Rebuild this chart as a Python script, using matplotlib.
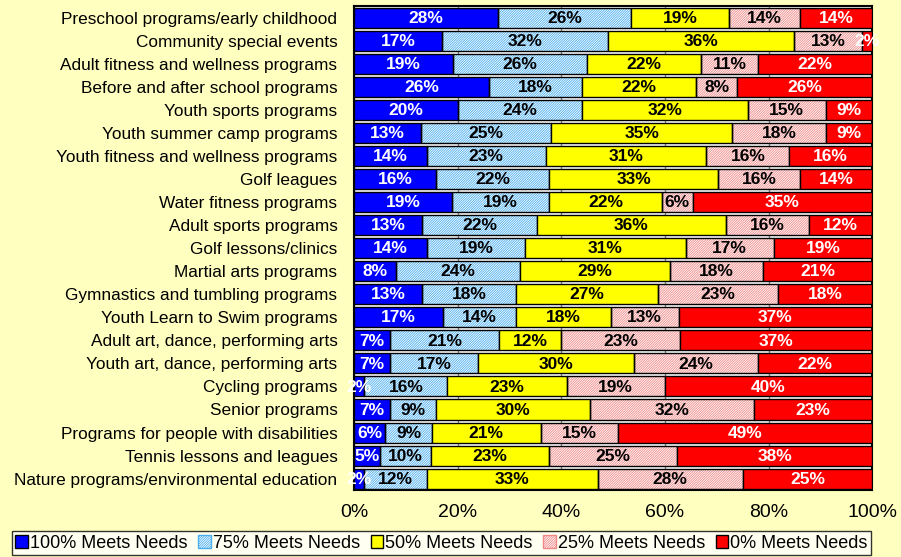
import matplotlib.pyplot as plt
import numpy as np
from matplotlib.patches import Patch

plt.rcParams['font.family'] = ['Liberation Sans', 'DejaVu Sans']
plt.rcParams['hatch.linewidth'] = 0.6

categories = [
    'Preschool programs/early childhood',
    'Community special events',
    'Adult fitness and wellness programs',
    'Before and after school programs',
    'Youth sports programs',
    'Youth summer camp programs',
    'Youth fitness and wellness programs',
    'Golf leagues',
    'Water fitness programs',
    'Adult sports programs',
    'Golf lessons/clinics',
    'Martial arts programs',
    'Gymnastics and tumbling programs',
    'Youth Learn to Swim programs',
    'Adult art, dance, performing arts',
    'Youth art, dance, performing arts',
    'Cycling programs',
    'Senior programs',
    'Programs for people with disabilities',
    'Tennis lessons and leagues',
    'Nature programs/environmental education',
]

meets_100 = [28, 17, 19, 26, 20, 13, 14, 16, 19, 13, 14, 8, 13, 17, 7, 7, 2, 7, 6, 5, 2]
meets_75 = [26, 32, 26, 18, 24, 25, 23, 22, 19, 22, 19, 24, 18, 14, 21, 17, 16, 9, 9, 10, 12]
meets_50 = [19, 36, 22, 22, 32, 35, 31, 33, 22, 36, 31, 29, 27, 18, 12, 30, 23, 30, 21, 23, 33]
meets_25 = [14, 13, 11, 8, 15, 18, 16, 16, 6, 16, 17, 18, 23, 13, 23, 24, 19, 32, 15, 25, 28]
meets_0 = [14, 2, 22, 26, 9, 9, 16, 14, 35, 12, 19, 21, 18, 37, 37, 22, 40, 23, 49, 38, 25]

series_names = ['100% Meets Needs', '75% Meets Needs', '50% Meets Needs',
                '25% Meets Needs', '0% Meets Needs']

series = np.array([meets_100, meets_75, meets_50, meets_25, meets_0], dtype=float)
totals = series.sum(axis=0)
shares = series / totals * 100  # 100% stacked

# (facecolor, hatch colour, hatch, text colour)
styles = [
    ('#0000FF', None, None, 'white'),
    ('white', '#4AAEF0', '/' * 14, 'black'),
    ('#FFFF00', None, None, 'black'),
    ('white', '#F08888', '/' * 14, 'black'),
    ('#FF0000', None, None, 'white'),
]

bg = '#FFFFC0'
fig = plt.figure(figsize=(9.01, 5.57), dpi=100, facecolor=bg)
ax = fig.add_axes([0.393, 0.120, 0.575, 0.869])
ax.set_facecolor('white')

y = np.arange(len(categories))
left = np.zeros(len(categories))
for i, name in enumerate(series_names):
    fc, hc, hatch, tc = styles[i]
    if hatch:
        ax.barh(y, shares[i], left=left, height=0.87, color='white',
                edgecolor=hc, hatch=hatch, linewidth=0, zorder=2)
        ax.barh(y, shares[i], left=left, height=0.87, fill=False,
                edgecolor='black', linewidth=1.0, zorder=3)
    else:
        ax.barh(y, shares[i], left=left, height=0.87, color=fc,
                edgecolor='black', linewidth=1.0, zorder=3)
    for yy, l, w, v in zip(y, left, shares[i], series[i]):
        ax.text(l + w / 2, yy + 0.03, '{0}%'.format(int(v)), ha='center', va='center',
                color=tc, fontsize=12.5, fontweight='bold', zorder=5)
    left += shares[i]

ax.set_xlim(0, 100)
ax.set_ylim(len(categories) - 0.5, -0.5)
ax.set_yticks(y)
ax.set_yticklabels(categories, fontsize=12.4)
ax.tick_params(axis='y', length=0, pad=12)
ax.set_xticks([0, 20, 40, 60, 80, 100])
ax.set_xticklabels(['0%', '20%', '40%', '60%', '80%', '100%'], fontsize=14)
ax.tick_params(axis='x', length=0, pad=10)
ax.grid(axis='x', color='#808080', linewidth=1, zorder=0)
for s in ax.spines.values():
    s.set_linewidth(1.5)
    s.set_color('black')

# legend
handles = []
for i, name in enumerate(series_names):
    fc, hc, hatch, tc = styles[i]
    if hatch:
        handles.append(Patch(facecolor='white', edgecolor=hc, hatch=hatch, label=name))
    else:
        handles.append(Patch(facecolor=fc, edgecolor='black', label=name))
leg = fig.legend(handles=handles, loc='lower center', bbox_to_anchor=(0.49, 0.0),
                 ncol=5, fontsize=13, frameon=True, fancybox=False,
                 handlelength=0.7, handleheight=0.7, handletextpad=0.1,
                 columnspacing=0.6, borderpad=0.2, borderaxespad=0.1)
leg.get_frame().set_edgecolor('black')
leg.get_frame().set_linewidth(1.0)
leg.get_frame().set_facecolor('white')

fig.savefig('out.png', dpi=100, facecolor=bg)
